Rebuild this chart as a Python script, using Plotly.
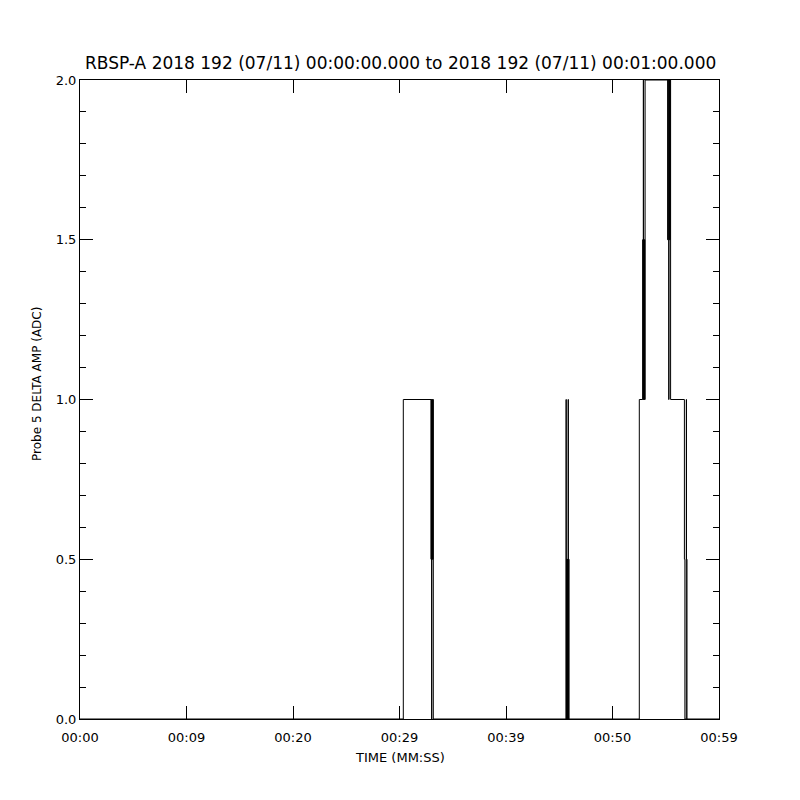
"""RBSP-A probe 5 delta amplitude, one minute step trace (IDL-style panel)."""
import plotly.graph_objects as go

TITLE = "RBSP-A 2018 192 (07/11) 00:00:00.000 to 2018 192 (07/11) 00:01:00.000"
X_TITLE = "TIME (MM:SS)"
Y_TITLE = "Probe 5 DELTA AMP (ADC)"

# sample times (seconds from 00:00:00) and values at each change of level
TIME_S = [
    0.0, 30.357,
    32.958, 32.986, 33.014, 33.033, 33.061, 33.089, 33.117, 33.146, 33.174,
    45.634, 45.662, 45.690, 45.718, 45.746, 45.775, 45.803, 45.831, 45.859, 45.887, 45.915,
    52.516, 52.836, 52.864, 52.892, 52.920, 52.948, 52.977, 53.005, 53.033, 53.061,
    55.183, 55.211, 55.239, 55.277, 55.305, 55.333, 55.362, 55.390, 55.418, 55.455,
    56.751, 56.798, 56.930, 56.948, 56.995,
    60.0,
]
DELTA_AMP = [
    0.0, 1.0,
    0.5, 1.0, 0.0, 1.0, 0.5, 1.0, 0.5, 1.0, 0.0,
    1.0, 0.0, 0.5, 0.0, 0.5, 0.0, 0.5, 1.0, 0.0, 0.5, 0.0,
    1.0, 1.5, 1.0, 2.0, 1.0, 1.5, 1.0, 1.5, 1.0, 2.0,
    1.5, 2.0, 1.5, 1.0, 2.0, 1.5, 2.0, 1.5, 2.0, 1.0,
    0.5, 0.0, 1.0, 0.5, 0.0,
    0.0,
]

X_TICKS = [0, 10, 20, 30, 40, 50, 60]
X_TICK_LABELS = ["00:00", "00:09", "00:20", "00:29", "00:39", "00:50", "00:59"]
Y_TICKS = [0.0, 0.5, 1.0, 1.5, 2.0]

FONT = "DejaVu Sans"

fig = go.Figure()
fig.add_trace(
    go.Scatter(
        x=TIME_S, y=DELTA_AMP, mode="lines",
        line=dict(color="black", width=1, shape="hv"),
        showlegend=False, hoverinfo="skip",
    )
)

axis_common = dict(
    showgrid=False, zeroline=False, automargin=False,
    showline=True, linecolor="black", linewidth=1, mirror="ticks",
    ticks="inside", ticklen=13, tickcolor="black", tickwidth=1,
    tickfont=dict(family=FONT, size=13, color="black"),
)

# page body adds 8px, so margins are shifted to keep the frame at 80..719
fig.update_layout(
    width=800, height=800,
    paper_bgcolor="white", plot_bgcolor="white",
    margin=dict(l=72, r=89, t=72, b=89),
    font=dict(family=FONT, color="black"),
    xaxis=dict(
        range=[0, 60], tickmode="array", tickvals=X_TICKS, ticktext=X_TICK_LABELS,
        ticklabelstandoff=6,
        **axis_common,
    ),
    yaxis=dict(
        range=[0, 2], tickmode="array", tickvals=Y_TICKS, tickformat=".1f",
        minor=dict(dtick=0.1, ticks="inside", ticklen=6, tickcolor="black", showgrid=False),
        **axis_common,
    ),
    annotations=[
        dict(text=TITLE, xref="paper", yref="paper", x=0.5016, y=1.027,
             xanchor="center", yanchor="middle", showarrow=False,
             font=dict(family=FONT, size=17, color="black")),
        dict(text=X_TITLE, xref="paper", yref="paper", x=0.5008, y=-0.061,
             xanchor="center", yanchor="middle", showarrow=False,
             font=dict(family=FONT, size=13, color="black")),
        dict(text=Y_TITLE, xref="paper", yref="paper", x=-0.0673, y=0.5243,
             xanchor="center", yanchor="middle", showarrow=False, textangle=-90,
             font=dict(family=FONT, size=12, color="black")),
    ],
)

fig.write_html("out.html")
